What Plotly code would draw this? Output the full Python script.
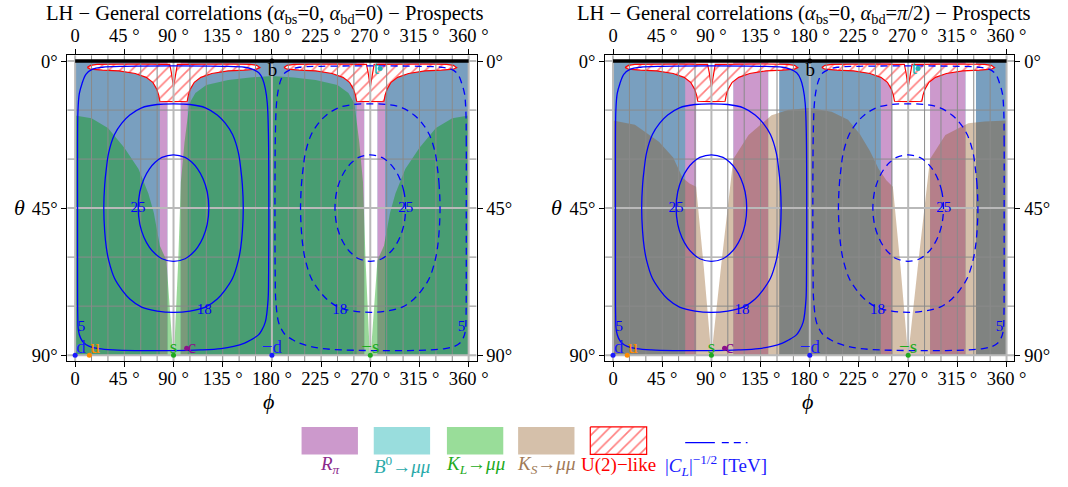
import plotly.graph_objects as go

FONT = "Liberation Serif"
W, H = 1068, 487

# ---------------- axis data ----------------
PHI_TICKS = [0, 45, 90, 135, 180, 225, 270, 315, 360]
PHI_TICK_TEXT = ["0", "45 °", "90 °", "135 °", "180 °", "225 °", "270 °", "315 °", "360 °"]
THETA_TICKS = [0, 45, 90]
THETA_TICK_TEXT = ["0°", "45°", "90°"]
GRID_PHI = list(range(0, 361, 15))
GRID_THETA = list(range(0, 91, 15))
GRID_PHI_MAJOR = [0, 90, 180, 270, 360]
GRID_THETA_MAJOR = [0, 45, 90]
PHI_SPAN = [0, 360]
THETA_SPAN = [0, 90]

TITLES = [
    "LH − General correlations (<i>α</i><sub>bs</sub>=0, <i>α</i><sub>bd</sub>=0) − Prospects",
    "LH − General correlations (<i>α</i><sub>bs</sub>=0, <i>α</i><sub>bd</sub>=<i>π</i>/2) − Prospects",
]

# ---------------- regions (φ, θ in degrees) ----------------
LEFT_RPI_STRIPS = [(77.5, 84.5), (96.5, 103), (257.5, 264.5), (276.5, 283.5)]
LEFT_WHITE_STRIPS = [(84.5, 96.5), (264.5, 276.5)]
RIGHT_RPI_STRIPS = [(66, 76), (110, 142), (245, 255.5), (290, 322.5)]
RIGHT_WHITE_STRIPS = [(76, 110), (142, 152), (255.5, 290), (322.5, 332)]

KL_BOUNDARY = [(0, 16.7), (15, 17.5), (30, 20.5), (45, 26.5), (58, 33), (67, 40.5), (72, 46.5),
               (77.5, 56.5), (83.5, 61), (89.5, 89.5), (90.5, 89.5), (94.3, 61), (96.7, 37),
               (100, 25), (104.5, 13), (110, 9.8), (120, 7.3), (140, 5.8), (160, 5.0), (180, 4.6),
               (200, 5.0), (220, 5.8), (240, 7.3), (250, 9.8), (255.5, 13), (260, 25), (263.3, 37),
               (265.7, 61), (269.5, 89.5), (270.5, 89.5), (276.5, 61), (282.5, 56.5), (288, 46.5),
               (293, 40.5), (302, 33), (315, 26.5), (330, 20.5), (345, 17.5), (360, 16.7)]

KS_BOUNDARY = [(0, 18.2), (20, 19.5), (42, 24.7), (55, 29.5), (63.6, 35.7), (70, 37.5), (76, 38.5),
               (83, 63), (89.5, 88.5), (90.5, 88.5), (99.5, 60.8), (110, 30), (124, 22.6),
               (145, 16.6), (160, 15), (180, 14.4), (200, 15.5), (215, 18), (226, 22.5),
               (235, 27.5), (243, 33), (250, 36.5), (256, 38.5), (263, 63), (269.5, 88.5),
               (270.5, 88.5), (279.5, 60.8), (290, 30), (304, 22.6), (325, 19), (340, 18.5),
               (360, 18.2)]

U2_A = [(11, 2.0), (14, 1.3), (20, 1.0), (40, 0.9), (60, 0.9), (80, 1.0), (86.5, 1.0), (88, 3.5),
        (89.3, 6.5), (90, 8), (90.7, 6.5), (92, 3.5), (93.5, 1.0), (100, 1.0), (120, 0.9),
        (140, 0.9), (160, 1.0), (166, 1.3), (169, 2.0), (166, 2.5), (155, 2.8), (140, 3.0),
        (125, 3.8), (115, 5), (109, 6.5), (105.5, 8.5), (103.5, 10.5), (102.5, 12.3), (90, 12.4),
        (77.5, 12.3), (76.5, 10.5), (74.5, 8.5), (71, 6.5), (65, 5), (55, 3.8), (40, 3.0),
        (25, 2.8), (14, 2.5), (11, 2.0)]
U2_B = [(191, 2.0), (194, 1.3), (200, 1.0), (220, 0.9), (240, 0.9), (260, 1.0), (266.5, 1.0),
        (268, 3.5), (269.3, 6.5), (270, 8), (270.7, 6.5), (272, 3.5), (273.5, 1.0), (280, 1.0),
        (300, 0.9), (320, 0.9), (340, 1.0), (346, 1.3), (349, 2.0), (346, 2.5), (335, 2.8),
        (320, 3.0), (305, 3.8), (295, 5), (289, 6.5), (285.5, 8.5), (283.5, 10.5), (282.5, 12.3),
        (270, 12.4), (257.5, 12.3), (256.5, 10.5), (254.5, 8.5), (251, 6.5), (245, 5), (235, 3.8),
        (220, 3.0), (205, 2.8), (194, 2.5), (191, 2.0)]

# ---------------- |C_L|^-1/2 contours ----------------
C5_SOLID = [(2.2, 45), (2.2, 25), (2.6, 15), (3.8, 10), (6.2, 7), (10, 4), (16, 2.5), (25, 1.9),
            (45, 1.6), (90, 1.5), (135, 1.6), (155, 1.9), (162, 2.5), (168, 3.6), (171.5, 5.5),
            (174, 8.5), (175.8, 13), (176.8, 22), (177.2, 45), (177, 65), (176.5, 73), (174, 79.8),
            (170.5, 82.5), (167.7, 83.8), (161, 85.3), (155, 86.3), (145, 87.3), (133.5, 88),
            (115, 88.4), (90, 88.6), (55, 88.6), (35, 88.4), (21.6, 88), (13, 87.3), (8, 86.3),
            (5, 84.8), (3, 82.5), (2.4, 78), (2.2, 65), (2.2, 45)]
C5_DASHED = [(357.8, 45), (357.8, 25), (357.4, 15), (356.2, 10), (353.8, 7), (350, 4), (344, 2.5),
             (335, 1.9), (315, 1.6), (270, 1.5), (225, 1.6), (205, 1.9), (198, 2.5), (192, 3.6),
             (188.5, 5.5), (186, 8.5), (184.2, 13), (183.2, 22), (182.8, 45), (183, 65),
             (183.5, 73), (186, 79.8), (189.5, 82.5), (192.3, 83.8), (199, 85.3), (205, 86.3),
             (215, 87.3), (226.5, 88), (245, 88.4), (270, 88.6), (305, 88.6), (325, 88.4),
             (338.4, 88), (347, 87.3), (352, 86.3), (355, 84.8), (357, 82.5), (357.6, 78),
             (357.8, 65), (357.8, 45)]
C18_SOLID = [(26.2, 45), (27, 38), (28.5, 33), (30.7, 28), (36, 22.5), (42.7, 19), (50, 16.5),
             (60.8, 14.3), (75, 13.3), (90, 13.1), (105, 13.3), (119.2, 14.3), (130, 16.5),
             (137.3, 19), (144, 22.5), (149.3, 28), (151.5, 33), (153, 38), (153.8, 45),
             (153, 52), (151.5, 57), (149.3, 61), (144, 66.5), (137.3, 70), (130, 72.8),
             (119.2, 75.3), (105, 76.5), (90, 76.9), (75, 76.5), (60.8, 75.3), (50, 72.8),
             (42.7, 70), (36, 66.5), (30.7, 61), (28.5, 57), (27, 52), (26.2, 45)]
C18_DASHED = [(333.8, 45), (333, 38), (331.5, 33), (329.3, 28), (324, 22.5), (317.3, 19),
              (310, 16.5), (299.2, 14.3), (285, 13.3), (270, 13.1), (255, 13.3), (240.8, 14.3),
              (230, 16.5), (222.7, 19), (216, 22.5), (210.7, 28), (208.5, 33), (207, 38),
              (206.2, 45), (207, 52), (208.5, 57), (210.7, 61), (216, 66.5), (222.7, 70),
              (230, 72.8), (240.8, 75.3), (255, 76.5), (270, 76.9), (285, 76.5), (299.2, 75.3),
              (310, 72.8), (317.3, 70), (324, 66.5), (329.3, 61), (331.5, 57), (333, 52),
              (333.8, 45)]
C25_SOLID = [(57.7, 45), (59.2, 40), (63, 36), (68, 33), (73.2, 31), (79.4, 29.5), (90, 28.7),
             (100.6, 29.5), (106.8, 31), (112, 33), (117, 36), (120.8, 40), (122.3, 45),
             (120.8, 50), (117, 54), (112, 57), (106.8, 59), (100.6, 60.5), (90, 61.3),
             (79.4, 60.5), (73.2, 59), (68, 57), (63, 54), (59.2, 50), (57.7, 45)]
C25_DASHED = [(302.3, 45), (300.8, 40), (297, 36), (292, 33), (286.8, 31), (280.6, 29.5),
              (270, 28.7), (259.4, 29.5), (253.2, 31), (248, 33), (243, 36), (239.2, 40),
              (237.7, 45), (239.2, 50), (243, 54), (248, 57), (253.2, 59), (259.4, 60.5),
              (270, 61.3), (280.6, 60.5), (286.8, 59), (292, 57), (297, 54), (300.8, 50),
              (302.3, 45)]

CONTOUR_LABELS = ["25", "18", "5", "25", "18", "5"]
CONTOUR_LABEL_PHI = [57.5, 118, 5.8, 302.5, 242, 353.5]
CONTOUR_LABEL_THETA = [45, 76.3, 81.5, 45, 76.3, 81.5]

# ---------------- quark points ----------------
POINT_PHI = [0, 13, 90, 102, 180, 270, 180, 279]
POINT_THETA = [90, 90, 90, 87.9, 90, 90, 0, 2.3]
POINT_COLORS = ["#1a1aff", "#ff8c00", "#1faa1f", "#8b108b", "#1a1aff", "#1faa1f", "#000000", "#22b3b3"]
LABEL_NAMES = ["d", "u", "s", "c", "−d", "−s", "b", "t"]
LABEL_PHI = [1.0, 14.0, 90, 103.0, 180, 270, 180.5, 278]
LABEL_THETA = [87.8, 87.8, 87.8, 87.9, 87.8, 87.8, 3.0, 2.4]
LABEL_POS = ["middle right", "middle right", "middle center", "middle right", "middle center",
             "middle center", "middle center", "middle left"]

# ---------------- styles ----------------
BLUEGRAY = "rgb(121,159,191)"
PURPLE = "rgb(204,153,204)"
KL_OVER = "rgba(0,154,0,0.40)"
KS_OVER = "rgba(142,85,25,0.37)"
LINE_BLUE = "#0000ff"
HATCH = dict(shape="/", fgcolor="red", bgcolor="white", size=8, solidity=0.2)

X_RANGE = [-7.24, 367.24]
Y_RANGE = [91.806, -1.806]
X_DOMAINS = [[68 / W, 482 / W], [612 / W, 1026 / W]]
Y_DOMAIN = [(H - 363) / H, (H - 52) / H]


def unzip(pairs):
    return [p[0] for p in pairs], [p[1] for p in pairs]


fig = go.Figure()


def add(tr):
    fig.add_trace(tr)


def strips(strip_list, color, xa, ya):
    xs, ys = [], []
    t0, t1 = THETA_SPAN
    for lo, hi in strip_list:
        xs += [lo, hi, hi, lo, lo, None]
        ys += [t0, t0, t1, t1, t0, None]
    add(go.Scatter(x=xs, y=ys, mode="lines", fill="toself", fillcolor=color,
                   line=dict(width=0, color=color), xaxis=xa, yaxis=ya, hoverinfo="skip"))


def panel(idx):
    xa = "x" if idx == 0 else "x2"
    ya = "y" if idx == 0 else "y2"
    p0, p1 = PHI_SPAN
    t0, t1 = THETA_SPAN
    add(go.Scatter(x=[p0, p1, p1, p0, p0], y=[t0, t0, t1, t1, t0], mode="lines", fill="toself",
                   fillcolor=BLUEGRAY, line=dict(width=0, color=BLUEGRAY), xaxis=xa, yaxis=ya,
                   hoverinfo="skip"))
    strips(LEFT_RPI_STRIPS if idx == 0 else RIGHT_RPI_STRIPS, PURPLE, xa, ya)
    strips(LEFT_WHITE_STRIPS if idx == 0 else RIGHT_WHITE_STRIPS, "white", xa, ya)
    bx, by = unzip(KL_BOUNDARY if idx == 0 else KS_BOUNDARY)
    bx = bx + [p1, p0, bx[0]]
    by = by + [t1, t1, by[0]]
    oc = KL_OVER if idx == 0 else KS_OVER
    add(go.Scatter(x=bx, y=by, mode="lines", fill="toself", fillcolor=oc,
                   line=dict(width=0, color="rgba(0,0,0,0)"), xaxis=xa, yaxis=ya, hoverinfo="skip"))
    for poly in (U2_A, U2_B):
        hx, hy = unzip(poly)
        add(go.Scatter(x=hx, y=hy, mode="lines", fill="toself", fillcolor="white",
                       fillpattern=HATCH, line=dict(width=1.2, color="red"),
                       xaxis=xa, yaxis=ya, hoverinfo="skip"))
    for major in (False, True):
        gx, gy = [], []
        for ph in GRID_PHI:
            if (ph in GRID_PHI_MAJOR) == major:
                gx += [ph, ph, None]
                gy += [Y_RANGE[0], Y_RANGE[1], None]
        for th in GRID_THETA:
            if (th in GRID_THETA_MAJOR) == major:
                gx += [X_RANGE[0], X_RANGE[1], None]
                gy += [th, th, None]
        add(go.Scatter(x=gx, y=gy, mode="lines",
                       line=dict(width=2 if major else 1, color="#b9b9b9" if major else "#8a8a8a"),
                       xaxis=xa, yaxis=ya, hoverinfo="skip"))
    for poly, dash in ((C5_SOLID, "solid"), (C18_SOLID, "solid"), (C25_SOLID, "solid"),
                       (C5_DASHED, "7px,5px"), (C18_DASHED, "7px,5px"), (C25_DASHED, "7px,5px")):
        cx, cy = unzip(poly)
        add(go.Scatter(x=cx, y=cy, mode="lines",
                       line=dict(width=1.3, color=LINE_BLUE, dash=dash, shape="spline",
                                 smoothing=1.0),
                       xaxis=xa, yaxis=ya, hoverinfo="skip"))
    add(go.Scatter(x=CONTOUR_LABEL_PHI, y=CONTOUR_LABEL_THETA, mode="text", text=CONTOUR_LABELS,
                   textfont=dict(family=FONT, size=15, color=LINE_BLUE), xaxis=xa, yaxis=ya,
                   hoverinfo="skip"))
    add(go.Scatter(x=PHI_SPAN, y=[t0, t0], mode="lines", line=dict(width=3.5, color="black"),
                   xaxis=xa, yaxis=ya, hoverinfo="skip"))
    add(go.Scatter(x=POINT_PHI, y=POINT_THETA, mode="markers",
                   marker=dict(size=5, color=POINT_COLORS),
                   xaxis=xa, yaxis=ya, hoverinfo="skip", cliponaxis=False))
    add(go.Scatter(x=LABEL_PHI, y=LABEL_THETA, mode="text", text=LABEL_NAMES,
                   textposition=LABEL_POS,
                   textfont=dict(family=FONT, size=19, color=POINT_COLORS),
                   xaxis=xa, yaxis=ya, hoverinfo="skip", cliponaxis=False))


panel(0)
panel(1)

for xa, ya in (("x3", "y"), ("x", "y3"), ("x4", "y2"), ("x2", "y4")):
    add(go.Scatter(x=[0], y=[0], mode="markers", marker=dict(opacity=0), xaxis=xa, yaxis=ya,
                   hoverinfo="skip"))

# ---------------- legend ----------------
LEG_COLORS = ["#cc99cc", "#99dddd", "#99dd99", "rgb(213,192,170)"]
LEG_X0 = [305, 378, 452, 524, 597]
LEG_W = 57
LEG_Y0, LEG_Y1 = 430, 458
for i, c in enumerate(LEG_COLORS):
    x0 = LEG_X0[i]
    add(go.Scatter(x=[x0, x0 + LEG_W, x0 + LEG_W, x0, x0], y=[LEG_Y0, LEG_Y0, LEG_Y1, LEG_Y1, LEG_Y0],
                   mode="lines", fill="toself", fillcolor=c, line=dict(width=0, color=c),
                   xaxis="x5", yaxis="y5", hoverinfo="skip"))
x0 = LEG_X0[4]
add(go.Scatter(x=[x0, x0 + LEG_W, x0 + LEG_W, x0, x0], y=[LEG_Y0, LEG_Y0, LEG_Y1, LEG_Y1, LEG_Y0],
               mode="lines", fill="toself", fillcolor="white", fillpattern=HATCH,
               line=dict(width=1.2, color="red"), xaxis="x5", yaxis="y5", hoverinfo="skip"))
add(go.Scatter(x=[693, 723], y=[446, 446], mode="lines", line=dict(width=1.3, color=LINE_BLUE),
               xaxis="x5", yaxis="y5", hoverinfo="skip"))
add(go.Scatter(x=[730, 756], y=[446, 446], mode="lines",
               line=dict(width=1.3, color=LINE_BLUE, dash="7px,5px"),
               xaxis="x5", yaxis="y5", hoverinfo="skip"))

LEG_TEXT = ["<i>R</i><sub><i>π</i></sub>", "<i>B</i><sup>0</sup>→<i>μμ</i>",
            "<i>K</i><sub><i>L</i></sub>→<i>μμ</i>", "<i>K</i><sub><i>S</i></sub>→<i>μμ</i>",
            "U(2)−like", "|<i>C</i><sub><i>L</i></sub>|<sup>−1/2</sup> [TeV]"]
LEG_TEXT_COLORS = ["#8b2a8b", "#2aaaaa", "#22aa22", "#a07a58", "#ff0000", "#1a1aff"]
LEG_TEXT_X = [333.5, 406.5, 480.5, 552.5, 625.5, 724]

annotations = []
for t, c, x in zip(LEG_TEXT, LEG_TEXT_COLORS, LEG_TEXT_X):
    annotations.append(dict(x=x / W, y=1 - 469 / H, xref="paper", yref="paper", text=t,
                            showarrow=False, font=dict(family=FONT, size=19, color=c),
                            xanchor="center", yanchor="middle"))
for i, t in enumerate(TITLES):
    annotations.append(dict(x=(268 if i == 0 else 813) / W, y=1 - 11 / H, xref="paper",
                            yref="paper", text=t, showarrow=False,
                            font=dict(family=FONT, size=20.5, color="black"),
                            xanchor="center", yanchor="middle"))
for xpx in (20, 563):
    annotations.append(dict(x=xpx / W, y=1 - 207 / H, xref="paper", yref="paper",
                            text="<i>θ</i>", showarrow=False,
                            font=dict(family=FONT, size=22, color="black"),
                            xanchor="center", yanchor="middle"))
for xpx in (272, 817):
    annotations.append(dict(x=xpx / W, y=1 - 404 / H, xref="paper", yref="paper",
                            text="<i>ϕ</i>", showarrow=False,
                            font=dict(family=FONT, size=22, color="black"),
                            xanchor="center", yanchor="middle"))


def xaxis(domain=None, side="bottom", anchor="y", overlaying=None):
    d = dict(range=X_RANGE, tickvals=PHI_TICKS, ticktext=PHI_TICK_TEXT, ticks="outside",
             ticklen=5, tickwidth=1, tickcolor="black", showline=True, linecolor="black",
             linewidth=1, showgrid=False, zeroline=False, side=side, anchor=anchor,
             tickfont=dict(family=FONT, size=18.5, color="black"), fixedrange=True)
    if side == "bottom":
        d["ticklabelstandoff"] = -4
    if domain is not None:
        d["domain"] = domain
    if overlaying:
        d["overlaying"] = overlaying
    return d


def yaxis(side="left", anchor="x", overlaying=None):
    d = dict(range=Y_RANGE, tickvals=THETA_TICKS, ticktext=THETA_TICK_TEXT, ticks="outside",
             ticklen=5, tickwidth=1, tickcolor="black", showline=True, linecolor="black",
             linewidth=1, showgrid=False, zeroline=False, side=side, anchor=anchor,
             tickfont=dict(family=FONT, size=18.5, color="black"), fixedrange=True)
    if overlaying:
        d["overlaying"] = overlaying
    else:
        d["domain"] = Y_DOMAIN
    return d


fig.update_layout(
    width=W, height=H, margin=dict(l=0, r=0, t=0, b=0),
    paper_bgcolor="white", plot_bgcolor="white", showlegend=False,
    font=dict(family=FONT, color="black"),
    xaxis=xaxis(X_DOMAINS[0], "bottom", "y"),
    yaxis=yaxis("left", "x"),
    xaxis2=xaxis(X_DOMAINS[1], "bottom", "y2"),
    yaxis2=yaxis("left", "x2"),
    xaxis3=xaxis(None, "top", "y", "x"),
    yaxis3=yaxis("right", "x", "y"),
    xaxis4=xaxis(None, "top", "y2", "x2"),
    yaxis4=yaxis("right", "x2", "y2"),
    xaxis5=dict(domain=[0, 1], range=[0, W], visible=False, anchor="y5", fixedrange=True),
    yaxis5=dict(domain=[0, 69 / H], range=[H, H - 69], visible=False, anchor="x5",
                fixedrange=True),
    annotations=annotations,
)

fig.write_html("out.html")
